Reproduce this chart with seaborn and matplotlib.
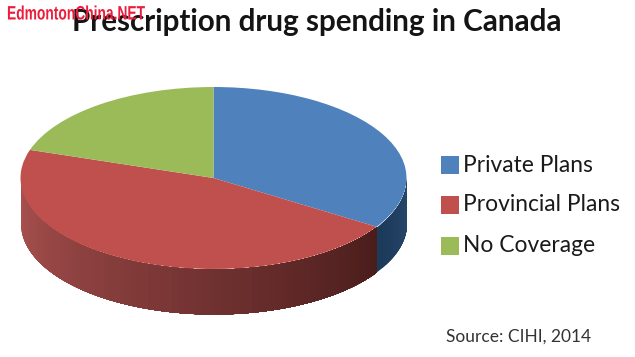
import numpy as np
import matplotlib
matplotlib.use("Agg")
import matplotlib.pyplot as plt
import matplotlib.colors as mc
from matplotlib.patheffects import AbstractPathEffect
from matplotlib.transforms import Affine2D
import seaborn as sns

categories = ["Private Plans", "Provincial Plans", "No Coverage"]
shares = [34, 46, 20]
colors = ["#4f81bd", "#c0504d", "#9bbb59"]
title = "Prescription drug spending in Canada"
watermark = "EdmontonChina.NET"
source = "Source: CIHI, 2014"

W, H = 635, 357
CX, CY, RX, RY, DEPTH = 213.5, 178, 193, 91, 45


class Squeeze(AbstractPathEffect):
    """Condense a text horizontally about a fixed x pixel."""
    def __init__(self, sx, x0):
        super().__init__()
        self.sx, self.x0 = sx, x0

    def draw_path(self, renderer, gc, tpath, affine, rgbFace=None):
        t = affine + Affine2D().translate(-self.x0, 0).scale(self.sx, 1).translate(self.x0, 0)
        renderer.draw_path(gc, tpath, t, rgbFace)


sns.set_theme(style="white")
plt.rcParams["font.family"] = ["Lato", "DejaVu Sans"]
fig = plt.figure(figsize=(W / 100, H / 100), dpi=100, facecolor="white")
ax = fig.add_axes([0, 0, 1, 1])

ax.pie(shares, colors=colors, startangle=90, counterclock=False, radius=1,
       wedgeprops=dict(linewidth=0))
ax.set_aspect("auto")
ax.set_xlim(-CX / RX, (W - CX) / RX)
ax.set_ylim((CY - H) / RY, CY / RY)
ax.axis("off")

# extruded rim, drawn from the same shares
d = DEPTH / RY
b1 = 450 - 360 * shares[0] / 100  # private / provincial boundary (deg, lower right)


def rim(t0, t1, c0, c1, n=60):
    edges = np.radians(np.linspace(t0, t1, n + 1))
    cmap = mc.LinearSegmentedColormap.from_list("r", [c0, c1])
    for i in range(n):
        # each strip runs on to the end of the rim, so no seams show between strips
        t = np.linspace(edges[i], edges[-1], 3 * (n - i) + 2)
        ax.fill_between(np.cos(t), np.sin(t), np.sin(t) - d, facecolor=cmap(i / (n - 1)),
                        linewidth=0, zorder=0)


rim(b1, 360, "#1c3a5a", "#28496c", 12)
rim(180, b1, "#ab5250", "#4a1d1c", 80)


def px(x, y, s, **kw):
    return fig.text(x / W, 1 - y / H, s, va="center", **kw)


px(72, 22, title, fontsize=21.3, fontweight="bold", color="#141414")
wm = px(7, 15, watermark, fontsize=14, fontweight="bold", color="#ee1c3c",
        family=["Liberation Sans", "DejaVu Sans"])
wm.set_path_effects([Squeeze(0.71, 7)])

for (c, lab, y) in zip(colors, categories, [165, 205, 246]):
    ax.scatter((450 - CX) / RX, (CY - y) / RY, marker="s", s=150, color=c, linewidth=0)
    px(463, y, lab, fontsize=16.4, color="#1a1a1a")
px(446, 337, source, fontsize=12.5, color="#333333")

fig.savefig("out.png", dpi=100)
